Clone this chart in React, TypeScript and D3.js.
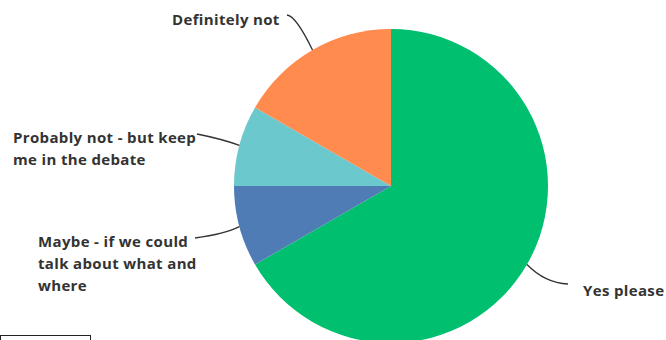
import React from "react";
import * as d3 from "d3";

const categories = [
  "Yes please",
  "Maybe - if we could talk about what and where",
  "Probably not - but keep me in the debate",
  "Definitely not",
];
const values = [8, 1, 1, 2];
const colors = ["#00BF6F", "#507CB6", "#6BC8CD", "#FF8B4F"];

const labelLines = [
  ["Yes please"],
  ["Maybe - if we could", "talk about what and", "where"],
  ["Probably not - but keep", "me in the debate"],
  ["Definitely not"],
];
const labelLayout = [
  { tx: 583, ty: 296, lx: 568, ly: 284, cx: 545, cy: 283 },
  { tx: 38, ty: 247, lx: 195, ly: 238, cx: 225, cy: 234 },
  { tx: 13, ty: 143, lx: 197, ly: 134, cx: 222, cy: 139 },
  { tx: 172, ty: 25, lx: 287, ly: 15, cx: 296, cy: 16 },
];

export default function App() {
  const W = 666;
  const H = 340;
  const cx = 391;
  const cy = 186;
  const r = 157;
  const pie = d3
    .pie<number>()
    .sort(null)
    .startAngle(0)
    .endAngle(2 * Math.PI)
    .value((d) => d);
  const arcs = pie(values);
  const arc = d3.arc<d3.PieArcDatum<number>>().innerRadius(0).outerRadius(r);
  return (
    <svg
      width={W}
      height={H}
      style={{ position: "fixed", left: 0, top: 0, background: "#fff" }}
    >
      <g transform={`translate(${cx},${cy})`}>
        {arcs.map((a, i) => (
          <path key={i} d={arc(a) || ""} fill={colors[i]} />
        ))}
      </g>
      {arcs.map((a, i) => {
        const mid = (a.startAngle + a.endAngle) / 2;
        const ex = cx + r * Math.sin(mid);
        const ey = cy - r * Math.cos(mid);
        const L = labelLayout[i];
        return (
          <path
            key={"l" + i}
            d={`M${L.lx},${L.ly} Q${L.cx},${L.cy} ${ex},${ey}`}
            fill="none"
            stroke="#333"
            strokeWidth={1.3}
          />
        );
      })}
      {labelLines.map((lines, i) => (
        <text
          key={"t" + i}
          x={labelLayout[i].tx}
          y={labelLayout[i].ty}
          fontFamily="'Open Sans', sans-serif"
          fontWeight={700}
          fontSize={15}
          letterSpacing={0.35}
          fill="#333"
          aria-label={categories[i]}
        >
          {lines.map((ln, j) => (
            <tspan key={j} x={labelLayout[i].tx} dy={j === 0 ? 0 : 22}>
              {ln}
            </tspan>
          ))}
        </text>
      ))}
      <rect x={0.5} y={335.5} width={90} height={20} fill="#fff" stroke="#222" strokeWidth={1} />
    </svg>
  );
}
